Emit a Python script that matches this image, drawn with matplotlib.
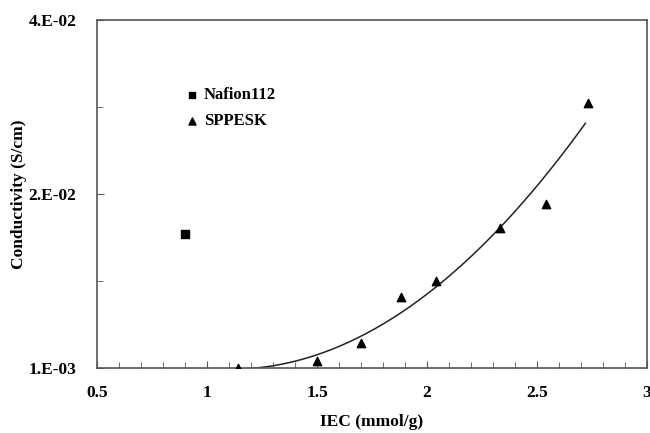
import numpy as np
import matplotlib
matplotlib.use("Agg")
import matplotlib.pyplot as plt
from matplotlib.ticker import FixedLocator

# data
nafion_iec = [0.90]
nafion_cond = [0.0164]
sppesk_iec = [1.14, 1.50, 1.70, 1.88, 2.04, 2.33, 2.54, 2.73]
sppesk_cond = [0.0010, 0.0018, 0.0039, 0.0092, 0.0110, 0.0171, 0.0199, 0.0315]

ytick_vals = [0.001, 0.021, 0.041]
ytick_labels = ["1.E-03", "2.E-02", "4.E-02"]
xtick_vals = [0.5, 1, 1.5, 2, 2.5, 3]
xtick_labels = ["0.5", "1", "1.5", "2", "2.5", "3"]

plt.rcParams['font.family'] = ['Liberation Serif', 'DejaVu Serif']
plt.rcParams['font.weight'] = 'bold'

fig = plt.figure(figsize=(6.5, 4.33), dpi=100)
ax = fig.add_axes([97/650, 1-368/433, 550/650, 348/433])

# polynomial trendline (order 2) fitted to SPPESK points
coef = np.polyfit(sppesk_iec, sppesk_cond, 2)
xs = np.linspace(1.15, 2.72, 200)
ys = np.polyval(coef, xs)
ax.plot(xs, ys, color='#222222', lw=1.1, zorder=2)

ax.scatter(nafion_iec, nafion_cond, marker='s', s=32, color='black', zorder=3)
ax.scatter(sppesk_iec, sppesk_cond, marker='^', s=36, color='black', zorder=3)

ax.set_xlim(0.5, 3)
ax.set_ylim(0.001, 0.041)
ax.set_xticks(xtick_vals)
ax.set_xticklabels(xtick_labels)
ax.set_yticks(ytick_vals)
ax.set_yticklabels(ytick_labels)
ax.xaxis.set_minor_locator(FixedLocator(np.arange(0.6, 3.0, 0.1)))
ax.yaxis.set_minor_locator(FixedLocator([0.011, 0.031]))
ax.tick_params(which='both', direction='in', color='#555555', labelsize=12.5)
ax.tick_params(axis='x', pad=12)
ax.tick_params(axis='y', pad=15)
ax.tick_params(which='major', length=5)
ax.tick_params(which='minor', length=4)
for lab in ax.get_xticklabels() + ax.get_yticklabels():
    lab.set_fontweight('bold')
for s in ax.spines.values():
    s.set_color('#555555')
    s.set_linewidth(1.2)

ax.set_xlabel("IEC (mmol/g)", fontsize=12.5, fontweight='bold', va='center')
ax.xaxis.set_label_coords(0.5, -0.155)
ax.set_ylabel("Conductivity (S/cm)", fontsize=12.5, fontweight='bold', va='center')
ax.yaxis.set_label_coords(-0.142, 0.5)

# legend, hand placed like the original
ax.scatter([0.932], [0.0324], marker='s', s=24, color='black', clip_on=False)
ax.text(0.985, 0.0324, "Nafion112", fontsize=12, fontweight='bold', va='center')
ax.scatter([0.932], [0.0294], marker='^', s=26, color='black', clip_on=False)
ax.text(0.985, 0.0294, "SPPESK", fontsize=12, fontweight='bold', va='center')

fig.savefig("out.png", dpi=100)
